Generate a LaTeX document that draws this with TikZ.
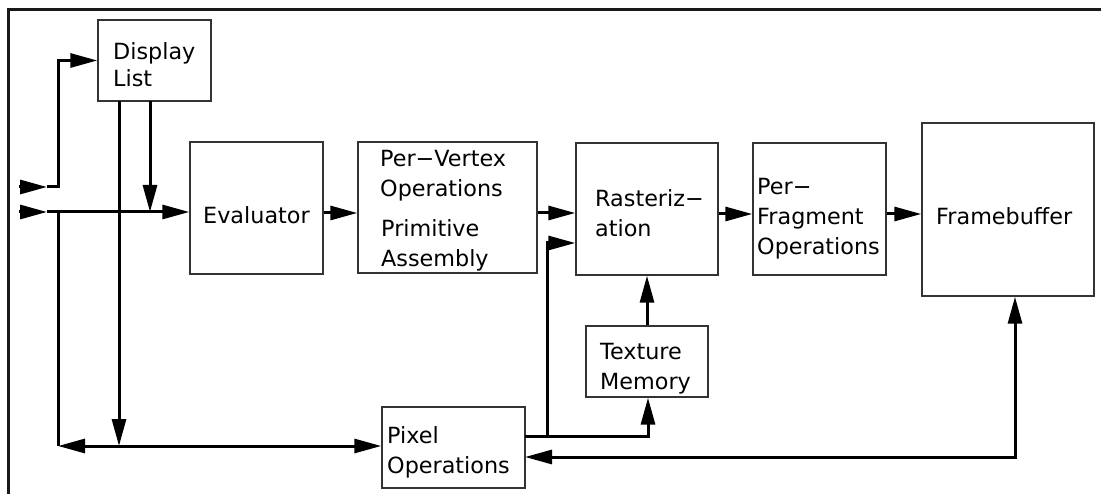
\documentclass[tikz,border=0pt]{standalone}
\usepackage{fontspec}
\setmainfont{DejaVu Sans}
\usetikzlibrary{arrows.meta,calc}
\begin{document}
\begin{tikzpicture}[x=1pt,y=-1pt,
  box/.style={draw=black!80,line width=1.4pt,inner sep=0pt,anchor=center},
  lbl/.style={inner sep=0pt,anchor=base west,align=left,font=\fontsize{22.3}{30}\selectfont},
  conn/.style={line width=3pt,line join=miter},
  tip/.style={-{Triangle[length=27pt,width=14pt]}},
  tips/.style={{Triangle[length=27pt,width=14pt]}-{Triangle[length=27pt,width=14pt]}}]
\useasboundingbox (0,0) rectangle (1101,494);
% frame
\coordinate (fr1) at (8,494);
\coordinate (fr2) at (8,10);
\coordinate (fr3) at (1101,10);
\draw[line width=3pt,black!90] (fr1) -- (fr2) -- (fr3);
% boxes
\node[box,minimum width=113pt,minimum height=81pt] (dl) at (154.5,60.5) {};
\node[box,minimum width=133pt,minimum height=132pt] (ev) at (256.5,208) {};
\node[box,minimum width=179pt,minimum height=131pt] (pv) at (447.5,207.5) {};
\node[box,minimum width=142pt,minimum height=132pt] (ra) at (647,209) {};
\node[box,minimum width=133pt,minimum height=132pt] (pf) at (819.5,209) {};
\node[box,minimum width=172pt,minimum height=173pt] (fb) at (1008,209.5) {};
\node[box,minimum width=122pt,minimum height=71pt] (tm) at (647,361.5) {};
\node[box,minimum width=143pt,minimum height=81pt] (po) at (453.5,447.5) {};
% labels (anchor = baseline of the last line)
\node[lbl,font=\fontsize{22.3}{27}\selectfont] (tdl) at (113,87) {Display\\List};
\node[lbl] (tev) at (203,223.5) {Evaluator};
\node[lbl] (tpv1) at (380,197) {Per−Vertex\\Operations};
\node[lbl] (tpv2) at (381,267) {Primitive\\Assembly};
\node[lbl] (tra) at (595,237) {Rasteriz−\\ation};
\node[lbl] (tpf) at (757,255) {Per−\\Fragment\\Operations};
\node[lbl] (tfb) at (936,225) {Framebuffer};
\node[lbl] (ttm) at (600,390) {Texture\\Memory};
\node[lbl] (tpo) at (387,473) {Pixel\\Operations};
% connector points
\coordinate (a1) at (19,187);
\coordinate (a1t) at (47,187);
\coordinate (a1c) at (58,187);
\coordinate (a2) at (19,212);
\coordinate (a2t) at (47,212);
\coordinate (j1) at (58,212);
\coordinate (j2) at (58,446);
\coordinate (j3) at (119,446);
\coordinate (dlA) at (119,101);
\coordinate (dlB) at (150,101);
\coordinate (j4) at (150,212);
\coordinate (p1) at (525,436);
\coordinate (p2) at (547,436);
\coordinate (p3) at (547,243);
\coordinate (p4) at (648,436);
\coordinate (q1) at (525,457);
\coordinate (q2) at (1015,457);
% input 1 to display list
\draw[conn,tip] (a1) -- (a1t);
\draw[conn,tip] (a1t) -- (a1c) -- (a1c |- dl.west) -- (dl.west);
% input 2 to evaluator
\draw[conn,tip] (a2) -- (a2t);
\draw[conn,tip] (a2t) -- (a2t -| ev.west);
\draw[conn,tip] (dlB) -- (j4);
\draw[conn,tip] (dlA) -- (j3);
\draw[conn] (j1) -- (j2);
\draw[conn,tips] (j2) -- (j2 -| po.west);
% pipeline
\draw[conn,tip] (ev.east |- 0,213) -- (pv.west |- 0,213);
\draw[conn,tip] (pv.east |- 0,213) -- (ra.west |- 0,213);
\draw[conn,tip] (ra.east |- 0,214) -- (pf.west |- 0,214);
\draw[conn,tip] (pf.east |- 0,214) -- (fb.west |- 0,214);
% pixel ops to texture and raster
\draw[conn,tip] (p1) -- (p4) -- (p4 |- tm.south);
\draw[conn,tip] (p2) -- (p3) -- (p3 -| ra.west);
\draw[conn,tip] (tm.north) -- (tm.north |- ra.south);
% framebuffer <-> pixel ops
\draw[conn,tips] (q1) -- (q2) -- (q2 |- fb.south);
\end{tikzpicture}
\end{document}
